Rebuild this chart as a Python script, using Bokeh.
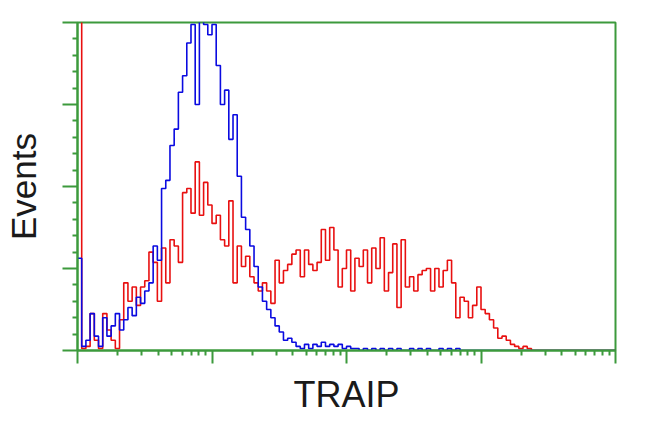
import numpy as np
from bokeh.plotting import figure
from bokeh.models import FixedTicker, CustomJSTickFormatter
from bokeh.embed import file_html
from bokeh.resources import INLINE

# Histogram bins: 128 log-spaced channels over 4 decades
n_bins = 128
decades = 4

blue_counts = [
    45, 2, 5, 18, 7, 2, 16, 7, 12, 18,
    10, 15, 21, 17, 26, 23, 29, 33, 51, 44,
    79, 83, 100, 108, 126, 134, 150, 159, 120, 166,
    159, 154, 159, 139, 120, 127, 103, 115, 85, 65,
    59, 51, 41, 31, 24, 20, 16, 12, 9, 5,
    6, 4, 2, 1, 3, 1, 3, 2, 4, 2,
    3, 2, 3, 1, 2, 1, 1, 0, 1, 0,
    1, 0, 1, 0, 1, 0, 1, 0, 0, 1,
    0, 1, 0, 1, 0, 0, 1, 0, 1, 0,
    1, 0, 0, 0, 0, 0, 0, 0, 0, 0,
    0, 0, 0, 0, 0, 0, 0, 0, 0, 0,
    0, 0, 0, 0, 0, 0, 0, 0, 0, 0,
    0, 0, 0, 0, 0, 0, 0, 0,
]

red_counts = [
    170, 1, 2, 18, 5, 1, 18, 10, 5, 1,
    15, 33, 24, 31, 22, 31, 34, 48, 43, 24,
    50, 33, 54, 51, 43, 77, 79, 67, 92, 66,
    82, 71, 62, 66, 54, 51, 73, 33, 51, 41,
    46, 36, 33, 29, 33, 29, 23, 44, 33, 39,
    42, 47, 49, 36, 49, 42, 39, 43, 59, 44,
    60, 49, 31, 40, 49, 29, 45, 41, 49, 33,
    50, 40, 55, 29, 38, 52, 21, 54, 31, 36,
    29, 37, 39, 40, 29, 40, 31, 39, 44, 33,
    16, 26, 24, 16, 22, 31, 20, 18, 15, 11,
    6, 7, 5, 3, 2, 1, 2, 1, 0, 0,
    0, 0, 0, 0, 0, 0, 0, 0, 0, 0,
    0, 0, 0, 0, 0, 0, 0, 0,
]

x_major = [1, 10, 100, 1000, 10000]
y_major = [0, 40, 80, 120, 160]

edges = np.logspace(0, decades, n_bins + 1)

GREEN = "#3c9a3c"

p = figure(width=642, height=424, x_axis_type="log",
           x_range=(1, 1e4), y_range=(0, 160),
           output_backend="svg", toolbar_location=None,
           min_border_left=77, min_border_right=27,
           min_border_top=22, min_border_bottom=74)
p.grid.visible = False
p.background_fill_color = "white"
p.border_fill_color = "white"
p.outline_line_color = GREEN
p.outline_line_width = 2

p.step(x=list(edges), y=red_counts + [0], mode="after",
       line_color="#e81010", line_width=1.6)
p.step(x=list(edges), y=blue_counts + [0], mode="after",
       line_color="#0a0ae0", line_width=1.6)

minor_x = [m * 10 ** d for d in range(decades) for m in range(2, 10)]
p.xaxis.ticker = FixedTicker(ticks=x_major, minor_ticks=minor_x)
minor_y = [i * 8 for i in range(21) if i % 5]
p.yaxis.ticker = FixedTicker(ticks=y_major, minor_ticks=minor_y)

empty = CustomJSTickFormatter(code="return ''")
for ax in (p.xaxis[0], p.yaxis[0]):
    ax.formatter = empty
    ax.major_label_standoff = 0
    ax.major_label_text_font_size = "1px"
    ax.axis_line_color = GREEN
    ax.axis_line_width = 2
    ax.major_tick_line_color = GREEN
    ax.major_tick_line_width = 2
    ax.minor_tick_line_color = GREEN
    ax.minor_tick_line_width = 2
    ax.major_tick_in = 0
    ax.minor_tick_in = 0
    ax.minor_tick_out = 5
    ax.axis_label_text_font = "Liberation Sans"
    ax.axis_label_text_font_style = "normal"
    ax.axis_label_text_color = "#1a1a1a"

p.xaxis.major_tick_out = 13
p.yaxis.major_tick_out = 15
p.xaxis.axis_label = "TRAIP"
p.xaxis.axis_label_text_font_size = "36px"
p.xaxis.axis_label_standoff = 10
p.yaxis.axis_label = "Events"
p.yaxis.axis_label_text_font_size = "35px"
p.yaxis.axis_label_standoff = 20

open("out.html", "w").write(file_html(p, INLINE))
